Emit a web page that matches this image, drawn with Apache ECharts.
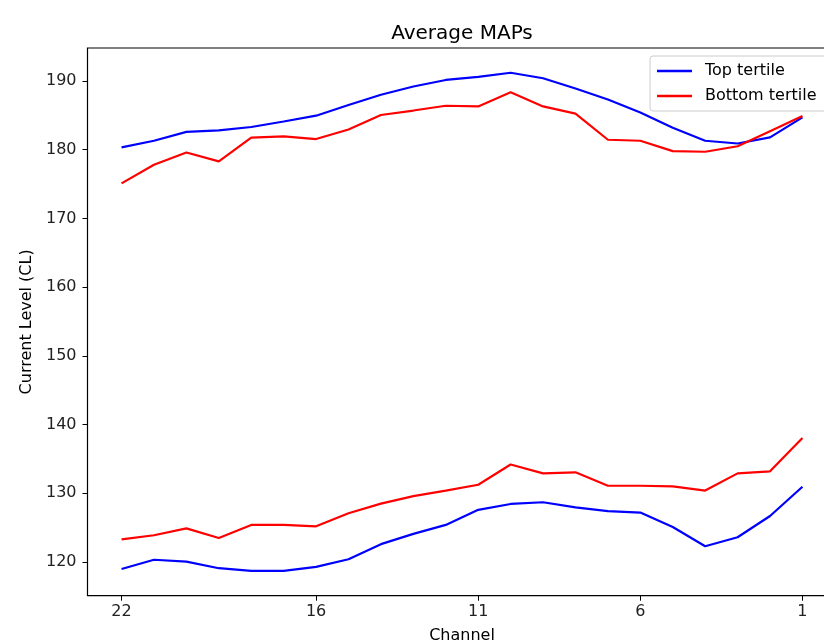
<!DOCTYPE html>
<html>
<head>
<meta charset="utf-8">
<script src="https://cdn.jsdelivr.net/npm/echarts@6/dist/echarts.min.js"></script>
<style>
  html, body { margin: 0; padding: 0; background: #fff; }
  #chart { width: 824px; height: 643px; }
</style>
</head>
<body>
<div id="chart"></div>
<script>
// Channel numbers, plotted from 22 down to 1
const channels = [22, 21, 20, 19, 18, 17, 16, 15, 14, 13, 12, 11, 10, 9, 8, 7, 6, 5, 4, 3, 2, 1];

// Upper MAP curves
const topUpper = [180.35, 181.3, 182.6, 182.8, 183.3, 184.1, 184.95, 186.5, 188.0, 189.2, 190.15,
                  190.6, 191.2, 190.4, 188.9, 187.3, 185.4, 183.2, 181.3, 180.9, 181.8, 184.7];
const bottomUpper = [175.1, 177.8, 179.6, 178.3, 181.75, 181.95, 181.55, 182.95, 185.05, 185.7, 186.4,
                     186.3, 188.35, 186.3, 185.25, 181.45, 181.3, 179.8, 179.7, 180.5, 182.7, 184.9];

// Lower MAP curves
const topLower = [118.98, 120.33, 120.05, 119.1, 118.7, 118.7, 119.3, 120.4, 122.6, 124.1, 125.4,
                  127.6, 128.45, 128.7, 127.95, 127.4, 127.2, 125.1, 122.3, 123.6, 126.7, 130.95];
const bottomLower = [123.3, 123.9, 124.9, 123.5, 125.4, 125.4, 125.2, 127.1, 128.5, 129.6, 130.4,
                     131.25, 134.2, 132.9, 133.05, 131.1, 131.1, 131.0, 130.4, 132.9, 133.2, 138.05];

// Tick labels
const xTicks = [22, 16, 11, 6, 1];
const yTicks = [120, 130, 140, 150, 160, 170, 180, 190];

const FONT = 'DejaVu Sans';
const pairs = vals => channels.map((c, i) => [c, vals[i]]);

function lineSeries(name, vals, color) {
  return {
    name: name,
    type: 'line',
    data: pairs(vals),
    symbol: 'none',
    lineStyle: { color: color, width: 2.2 },
    itemStyle: { color: color },
    emphasis: { disabled: true },
    animation: false
  };
}

const chart = echarts.init(document.getElementById('chart'), null, { renderer: 'canvas' });
chart.setOption({
  backgroundColor: '#fff',
  title: {
    text: 'Average MAPs',
    left: 457, top: 19, textAlign: 'center',
    textStyle: { fontFamily: FONT, fontSize: 20, fontWeight: 'normal', color: '#000' }
  },
  legend: {
    orient: 'vertical',
    left: 650, top: 56,
    padding: [7, 30, 7, 7],
    itemGap: 9,
    itemWidth: 35, itemHeight: 2.5,
    icon: 'rect',
    borderColor: '#cccccc', borderWidth: 1, borderRadius: 3,
    backgroundColor: 'rgba(255,255,255,0.8)',
    textStyle: { fontFamily: FONT, fontSize: 16, lineHeight: 16, color: '#000', padding: [0, 0, 0, 8] },
    data: ['Top tertile', 'Bottom tertile']
  },
  // the plot frame runs past the right edge of the canvas
  grid: {
    left: 87.5, top: 48, right: -12.5, bottom: 47.3,
    outerBoundsMode: 'none',
    show: true, borderColor: '#000', borderWidth: 1.2
  },
  xAxis: {
    type: 'value',
    inverse: true,
    min: -0.05, max: 23.05,
    name: 'Channel',
    nameLocation: 'middle',
    nameGap: 32,
    nameTextStyle: { fontFamily: FONT, fontSize: 16, color: '#000' },
    axisLine: { show: false, onZero: false },
    axisTick: { show: true, length: 5, customValues: xTicks, lineStyle: { color: '#000', width: 1 } },
    axisLabel: { customValues: xTicks, margin: 8, fontFamily: FONT, fontSize: 16, color: '#222' },
    splitLine: { show: false }
  },
  yAxis: {
    type: 'value',
    min: 115.1, max: 194.8,
    name: 'Current Level (CL)',
    nameLocation: 'middle',
    nameGap: 53,
    nameRotate: 90,
    nameTextStyle: { fontFamily: FONT, fontSize: 16, color: '#000' },
    axisLine: { show: false, onZero: false },
    axisTick: { show: true, length: 5, customValues: yTicks, lineStyle: { color: '#000', width: 1 } },
    axisLabel: { customValues: yTicks, margin: 11, fontFamily: FONT, fontSize: 16, color: '#222' },
    splitLine: { show: false }
  },
  series: [
    lineSeries('Top tertile', topUpper, '#0000ff'),
    lineSeries('Top tertile', topLower, '#0000ff'),
    lineSeries('Bottom tertile', bottomUpper, '#ff0000'),
    lineSeries('Bottom tertile', bottomLower, '#ff0000')
  ]
});
</script>
</body>
</html>
